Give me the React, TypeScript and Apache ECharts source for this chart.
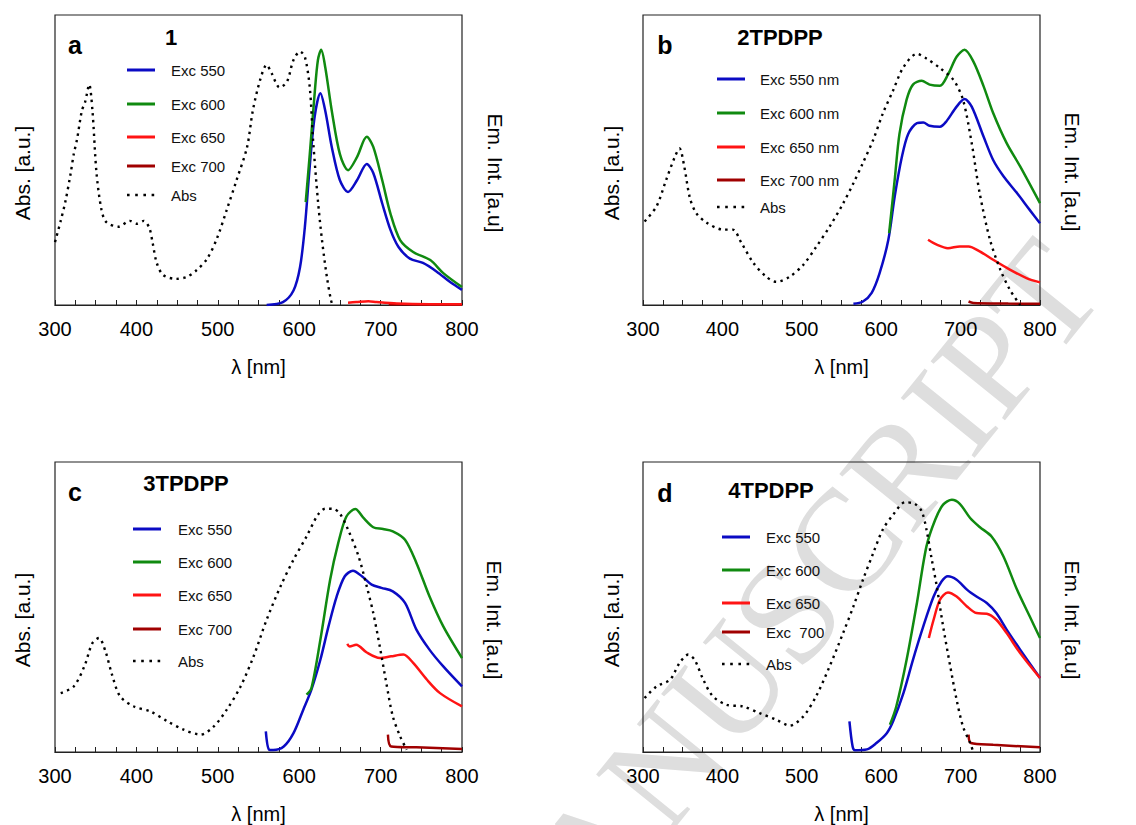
import React, { useEffect, useRef } from "react";
import * as echarts from "echarts";

// ---------- data (x: wavelength nm, y: arbitrary units 0-100) ----------
const xTicks = [300, 400, 500, 600, 700, 800];

// Panel a : compound 1
const aAbs = [[300,21.7],[307,29],[313,36],[319,45],[323,52],[327,57],[333,67],[337,70],[342,76],[346,67],[351,45.5],[357,33],[363,28.6],[378,27],[392,29],[400,28],[409,29],[416,26.5],[420,21.3],[425,14.5],[433,10.3],[449,9],[462,9.7],[474,12],[487,16],[499,23],[511,32.8],[523,43],[536,54.5],[543,67],[552,77.6],[560,82.8],[566,80],[576,75],[585,77],[593,84.5],[601,87.4],[607,85.5],[613,75],[617,57],[623,36],[628,22.4],[634,9.7],[639,1.7],[641,0]];
const aExc550 = [[560,0],[580,1],[593,5],[601,13],[607,27],[613,48],[619,65],[626,73],[632,67],[640,54.5],[650,43],[660,39],[671,43],[683,48.6],[691,45.5],[702,35],[712,26],[722,20],[736,16],[752,14.5],[769,11.5],[785,8],[800,5.2]];
const aExc600 = [[608,35.5],[613,52],[619,73],[623,84.5],[627,88],[632,82],[640,67],[650,52],[660,46.5],[671,51],[683,58],[691,54.5],[702,43],[712,31.6],[724,22.4],[740,18.3],[761,15.5],[777,11],[800,6.2]];
const aExc650 = [[660,0.8],[670,1],[685,1.3],[695,1],[720,0.5],[760,0.3],[800,0.3]];
const aExc700 = [[710,0.3],[800,0.2]];

// Panel b : 2TPDPP
const bAbs = [[302,28.8],[317,34],[329,43],[340,51],[346,54],[352,47.7],[359,37],[367,31.7],[380,28.4],[401,26],[413,26],[424,21.4],[439,14.5],[455,9.8],[468,8],[485,9.8],[502,13.9],[518,20],[535,27],[552,35],[565,42],[577,49],[590,57],[602,66],[615,74],[628,82],[645,86.6],[657,85],[674,81.7],[691,77.6],[703,70.8],[714,55.8],[724,38.6],[737,22.5],[750,12.2],[762,5.3],[775,0]];
const bExc550 = [[565,0.4],[577,1.2],[588,4.2],[598,11],[609,22.5],[617,37.4],[626,51],[634,59],[645,62.7],[653,62.9],[661,61.8],[674,61.5],[682,63.3],[695,68.4],[705,71],[714,68.4],[729,58],[741,50],[754,44.4],[771,38.6],[787,32.8],[800,28.2]];
const bExc600 = [[610,24.8],[617,43.2],[623,59],[632,70.8],[640,76],[651,77.3],[661,76],[674,75.6],[684,79.4],[695,85.6],[705,88],[716,84],[729,75.4],[741,66.2],[758,55.8],[775,47.8],[800,35.1]];
const bExc650 = [[659,22.5],[670,20.8],[684,19.6],[699,20.2],[710,20.2],[724,18.5],[741,15.6],[762,12.2],[783,9.3],[800,7.8]];
const bExc700 = [[710,1.2],[716,0.7],[760,0.5],[800,0.4]];

// Panel c : 3TPDPP
const cAbs = [[307,20.3],[323,22.6],[336,29.5],[346,37.6],[354,39.3],[362,34.7],[370,26.7],[380,19.2],[397,15.7],[417,14],[438,10.6],[458,7.7],[479,6],[495,8.8],[511,14.6],[528,22.6],[544,33],[560,45.6],[577,57.1],[593,66.3],[609,74.3],[623,81.8],[632,83.9],[642,83.8],[650,82.2],[660,76.7],[673,67.4],[683,57.1],[691,47.9],[699,36.4],[707,23.8],[715,12.3],[724,5.4],[732,0.8]];
const cExc550 = [[559,7.1],[563,0.8],[568,0.7],[581,1.9],[593,6.5],[605,14.6],[615,21.5],[626,31.8],[636,43.3],[646,53.6],[656,60.6],[666,62.5],[677,60.6],[689,57.7],[701,56.6],[715,55.4],[730,51.4],[744,42.2],[760,35.3],[777,29.5],[800,22.6]];
const cExc600 = [[609,19.8],[615,22],[626,38.7],[638,59.4],[648,72.1],[658,81.2],[669,83.8],[679,80.7],[691,77.5],[703,76.9],[715,76.1],[730,73.2],[744,65.2],[760,53.7],[777,43.3],[800,32.4]];
const cExc650 = [[659,37.3],[662,36.4],[670,37],[683,34.3],[699,32.4],[713,33],[728,33.6],[740,30.7],[757,24.9],[773,20.3],[800,15.7]];
const cExc700 = [[709,6],[713,1.9],[744,1.6],[800,1]];

// Panel d : 4TPDPP
const dAbs = [[302,18.6],[317,22.6],[334,24.9],[346,30.7],[357,33.6],[365,31.8],[376,24.9],[388,19.2],[405,16.3],[426,15.7],[447,13.4],[468,11.1],[485,9.1],[502,12.3],[518,19.2],[535,29.5],[552,41],[565,50.2],[577,59.4],[590,68.6],[602,76.7],[615,81.8],[630,86.1],[642,85.6],[651,83],[657,76.7],[663,67.4],[670,57.1],[678,43.3],[687,29.5],[695,18],[703,8.8],[712,3.1],[716,0]];
const dExc550 = [[560,10.6],[564,1.9],[567,0.6],[582,0.9],[594,3.1],[607,6.5],[615,10.6],[628,20.3],[640,31.8],[653,43.3],[666,53.6],[676,58.8],[684,60.6],[695,59.4],[708,56],[720,53.6],[733,51.4],[745,47.9],[758,42.2],[775,35.3],[800,25.5]];
const dExc600 = [[611,9.4],[619,15.7],[632,31.8],[645,51.4],[657,70.9],[668,80.1],[678,85.3],[689,87],[699,85.6],[712,80.7],[724,77.6],[739,74.3],[754,67.4],[771,56],[787,46.8],[800,39.3]];
const dExc650 = [[660,39.3],[666,45.6],[674,52.5],[684,55],[695,53.6],[708,50.2],[720,47.9],[733,47.7],[745,45.6],[758,41],[775,34.1],[800,25.5]];
const dExc700 = [[710,6],[713,3.1],[741,2.5],[800,1.6]];

const panelLetters = ["a", "b", "c", "d"];
const panelTitles = ["1", "2TPDPP", "3TPDPP", "4TPDPP"];
const legendNames = [
  ["Exc 550", "Exc 600", "Exc 650", "Exc 700", "Abs"],
  ["Exc 550 nm", "Exc 600 nm", "Exc 650 nm", "Exc 700 nm", "Abs"],
  ["Exc 550", "Exc 600", "Exc 650", "Exc 700", "Abs"],
  ["Exc 550", "Exc 600", "Exc 650", "Exc  700", "Abs"],
];
const absAxisName = "Abs. [a.u.]";
const emAxisName = "Em. Int. [a.u]";
const watermarkText = "ACCEPTED MANUSCRIPT";
const panelData = [
  [aExc550, aExc600, aExc650, aExc700, aAbs],
  [bExc550, bExc600, bExc650, bExc700, bAbs],
  [cExc550, cExc600, cExc650, cExc700, cAbs],
  [dExc550, dExc600, dExc650, dExc700, dAbs],
];

// ---------- styling / layout ----------
const FONT = "Liberation Sans, Arial, Helvetica, sans-serif";
const colors = ["#0b0bc4", "#108a10", "#ff1414", "#a00000", "#000000"];
const grids = [
  { left: 55, top: 15, width: 407, height: 290 },
  { left: 643, top: 15, width: 397, height: 290 },
  { left: 55, top: 462, width: 407, height: 290 },
  { left: 643, top: 462, width: 397, height: 290 },
];
// legend: line start x, text x, row centre ys
const legendLayout = [
  { lx: 127, tx: 171, ys: [70, 104, 137, 166, 195] },
  { lx: 717, tx: 760, ys: [79, 113, 147, 180, 207] },
  { lx: 133, tx: 178, ys: [529, 562, 595, 629, 661] },
  { lx: 722, tx: 766, ys: [537, 570, 603, 632, 664] },
];
// [letterX, letterY, titleX, titleY]
const letterPos = [
  [75, 45, 171, 37],
  [665, 45, 780, 37],
  [75, 492, 186, 483],
  [665, 493, 771, 490],
];
// [absX, absY, emX, emY]
const yNamePos = [
  [22, 173, 495, 173],
  [611, 173, 1072, 172],
  [22, 620, 494, 620],
  [611, 620, 1072, 620],
];

export default function App() {
  const ref = useRef<HTMLDivElement>(null);
  useEffect(() => {
    if (!ref.current) return;
    const chart = echarts.init(ref.current, null, { renderer: "svg" });

    const xAxis: any[] = [];
    const yAxis: any[] = [];
    const series: any[] = [];
    const graphic: any[] = [];

    // watermark (behind everything)
    graphic.push({
      type: "text",
      x: 1070,
      y: 262,
      rotation: (51 * Math.PI) / 180,
      z: -10,
      silent: true,
      style: {
        text: watermarkText,
        font: "145px 'Liberation Serif', 'Times New Roman', serif",
        fill: "#dedede",
        textAlign: "right",
        textVerticalAlign: "middle",
      },
    });

    grids.forEach((g, i) => {
      xAxis.push({
        gridIndex: i,
        type: "value",
        min: 300,
        max: 800,
        interval: 100,
        axisLine: { show: true, lineStyle: { color: "#222", width: 1.2 } },
        axisTick: { show: true, inside: true, length: 5, lineStyle: { color: "#222", width: 1 } },
        minorTick: { show: true, splitNumber: 4, length: 5, lineStyle: { color: "#222", width: 1 } },
        splitLine: { show: false },
        axisLabel: {
          fontSize: 20, color: "#000", margin: 14, fontFamily: FONT,
          showMinLabel: true, showMaxLabel: true,
          formatter: (v: number) => (xTicks.includes(v) ? String(v) : ""),
        },
        name: "λ [nm]",
        nameLocation: "middle",
        nameGap: 52,
        nameTextStyle: { fontSize: 20, color: "#000", fontFamily: FONT },
      });
      const yBase = {
        gridIndex: i,
        type: "value",
        min: 0,
        max: 100,
        axisLine: { show: false },
        axisTick: { show: false },
        axisLabel: { show: false },
        splitLine: { show: false },
      };
      yAxis.push({ ...yBase, position: "left" });
      yAxis.push({ ...yBase, position: "right" });

      const names = legendNames[i];
      // draw order: dark red first so that red covers it
      const order = [3, 0, 1, 2, 4];
      order.forEach((k) => {
        const isAbs = k === 4;
        series.push({
          type: "line",
          name: names[k],
          xAxisIndex: i,
          yAxisIndex: isAbs ? 2 * i : 2 * i + 1,
          data: panelData[i][k],
          showSymbol: false,
          symbol: "none",
          smooth: 0.3,
          lineStyle: isAbs
            ? { color: colors[k], width: 2.4, type: [2.4, 4.4], cap: "butt" }
            : { color: colors[k], width: 2.5 },
          itemStyle: { color: colors[k] },
          z: isAbs ? 3 : 2,
        });
      });

      // legend (drawn as graphic so the sample lines have no markers)
      const L = legendLayout[i];
      names.forEach((nm, k) => {
        const isAbs = k === 4;
        const y = L.ys[k];
        graphic.push({
          type: "line",
          z: 10,
          silent: true,
          shape: { x1: L.lx, y1: y, x2: L.lx + 28, y2: y },
          style: isAbs
            ? { stroke: colors[k], lineWidth: 2.6, lineDash: [2.6, 5.6] }
            : { stroke: colors[k], lineWidth: 3 },
        });
        graphic.push({
          type: "text",
          z: 10,
          silent: true,
          x: L.tx,
          y,
          style: { text: nm, font: `15px ${FONT}`, fill: "#111", textAlign: "left", textVerticalAlign: "middle" },
        });
      });

      const [lx, ly, tx, ty] = letterPos[i];
      graphic.push({
        type: "text", x: lx, y: ly, z: 10,
        style: { text: panelLetters[i], font: `bold 25px ${FONT}`, fill: "#000", textAlign: "center", textVerticalAlign: "middle" },
      });
      graphic.push({
        type: "text", x: tx, y: ty, z: 10,
        style: { text: panelTitles[i], font: `bold 22px ${FONT}`, fill: "#000", textAlign: "center", textVerticalAlign: "middle" },
      });
      const [ax, ay, ex, ey] = yNamePos[i];
      graphic.push({
        type: "text", x: ax, y: ay, z: 10, rotation: Math.PI / 2,
        style: { text: absAxisName, font: `21px ${FONT}`, fill: "#000", textAlign: "center", textVerticalAlign: "middle" },
      });
      graphic.push({
        type: "text", x: ex, y: ey, z: 10, rotation: -Math.PI / 2,
        style: { text: emAxisName, font: `21px ${FONT}`, fill: "#000", textAlign: "center", textVerticalAlign: "middle" },
      });
    });

    chart.setOption({
      animation: false,
      backgroundColor: "#fff",
      grid: grids.map((g) => ({
        ...g,
        show: true,
        borderColor: "#222",
        borderWidth: 1.2,
        backgroundColor: "transparent",
        containLabel: false,
      })),
      xAxis,
      yAxis,
      graphic,
      series,
    });
    return () => chart.dispose();
  }, []);

  return (
    <div
      ref={ref}
      style={{ position: "fixed", left: 0, top: 0, width: 1136, height: 825 }}
    />
  );
}
